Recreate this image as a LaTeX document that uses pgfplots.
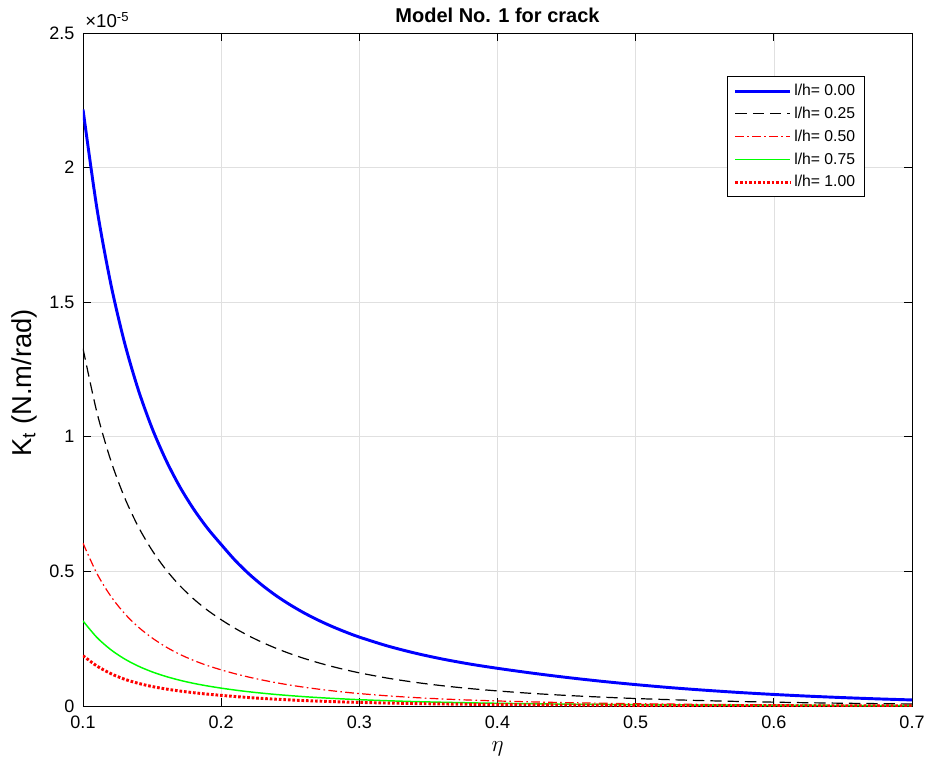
\documentclass[border=0pt]{standalone}
\usepackage{fontspec}
\setmainfont{Liberation Sans}
\usepackage{pgfplots}
\pgfplotsset{compat=1.18}
\begin{document}
\begin{tikzpicture}
\begin{axis}[name=ax,
  scale only axis, width=621.75pt, height=504.75pt,
  xmin=0.1, xmax=0.7, ymin=0, ymax=2.5,
  xtick={0.1,0.2,0.3,0.4,0.5,0.6,0.7},
  xticklabels={0.1,0.2,0.3,0.4,0.5,0.6,0.7},
  ytick={0,0.5,1,1.5,2,2.5},
  yticklabels={0,0.5,1,1.5,2,2.5},
  tick align=inside, tick pos=both,
  major tick length=6.2pt,
  every tick/.append style={black, line width=0.6pt},
  tick label style={font=\fontsize{13.5}{15}\selectfont},
  xticklabel style={yshift=-4pt},
  yticklabel style={xshift=-3pt},
  grid=major, grid style={color=black!12, line width=0.5pt},
  axis line style={line width=0.6pt},
  xlabel={$\eta$},
  xlabel style={font=\fontsize{19}{21}\selectfont, at={(axis description cs:0.5,-0.063)}, anchor=center},
  ylabel={K\textsubscript{t} (N.m/rad)},
  ylabel style={font=\fontsize{20.5}{22}\selectfont, at={(axis description cs:-0.071,0.48)}, anchor=center},
  legend style={at={(axis description cs:0.943,0.936)}, anchor=north east, draw=black, line width=0.5pt, fill=white,
    font=\fontsize{11.8}{13}\selectfont, row sep=3pt, inner xsep=5pt, inner ysep=4pt},
  legend cell align=left,
  legend image code/.code={\draw[#1] (0pt,0pt) -- (41pt,0pt);},
]
\addplot[blue, line width=2.2pt, smooth, tension=0.5] coordinates {
(0.10,2.216) (0.11,1.851) (0.12,1.571) (0.13,1.351) (0.14,1.175) (0.15,1.032)
(0.16,0.914) (0.17,0.815) (0.18,0.732) (0.19,0.661) (0.20,0.600) (0.21,0.5416)
(0.22,0.4911) (0.23,0.4474) (0.24,0.4091) (0.25,0.3756) (0.26,0.3458) (0.27,0.3195)
(0.28,0.2960) (0.29,0.2750) (0.30,0.2560) (0.32,0.2236) (0.34,0.1969) (0.36,0.1746)
(0.38,0.1559) (0.40,0.1400) (0.425,0.1222) (0.45,0.1062) (0.475,0.0920) (0.50,0.0795)
(0.525,0.0683) (0.55,0.0587) (0.575,0.0502) (0.60,0.0429) (0.625,0.0366) (0.65,0.0312)
(0.675,0.0265) (0.70,0.0225)};
\addlegendentry{l/h= 0.00}
\addplot[black, line width=0.9pt, dash pattern=on 8.5pt off 4.5pt, smooth, tension=0.5] coordinates {
(0.10,1.328) (0.11,1.0923) (0.12,0.9138) (0.13,0.7756) (0.14,0.6663) (0.15,0.5784)
(0.16,0.5068) (0.17,0.4475) (0.18,0.3980) (0.19,0.3562) (0.20,0.3206) (0.21,0.2887)
(0.22,0.2606) (0.23,0.2358) (0.24,0.2138) (0.25,0.1942) (0.26,0.1768) (0.27,0.1612)
(0.28,0.1472) (0.29,0.1346) (0.30,0.1232) (0.32,0.1039) (0.34,0.0882) (0.36,0.0754)
(0.38,0.0648) (0.40,0.0560) (0.425,0.0468) (0.45,0.0393) (0.475,0.0331) (0.50,0.0278)
(0.525,0.0235) (0.55,0.0199) (0.575,0.0168) (0.60,0.0143) (0.625,0.0121) (0.65,0.0103)
(0.675,0.0088) (0.70,0.0075)};
\addlegendentry{l/h= 0.25}
\addplot[red, line width=0.9pt, dash pattern=on 6.5pt off 2.5pt on 1.2pt off 2.5pt, smooth, tension=0.5] coordinates {
(0.10,0.605) (0.11,0.4929) (0.12,0.4088) (0.13,0.3441) (0.14,0.2934) (0.15,0.2530)
(0.16,0.2195) (0.17,0.1921) (0.18,0.1694) (0.19,0.1504) (0.20,0.1343) (0.21,0.1200)
(0.22,0.1074) (0.23,0.0963) (0.24,0.0864) (0.25,0.0776) (0.26,0.0698) (0.27,0.0629)
(0.28,0.0567) (0.29,0.0511) (0.30,0.0462) (0.32,0.0379) (0.34,0.0314) (0.36,0.0262)
(0.38,0.0221) (0.40,0.0187) (0.425,0.0153) (0.45,0.0125) (0.475,0.0103) (0.50,0.0086)
(0.55,0.0060) (0.60,0.0042) (0.65,0.0030) (0.70,0.0022)};
\addlegendentry{l/h= 0.50}
\addplot[color={rgb,255:red,0;green,255;blue,0}, line width=1.1pt, smooth, tension=0.5] coordinates {
(0.10,0.316) (0.11,0.2550) (0.12,0.2097) (0.13,0.1751) (0.14,0.1482) (0.15,0.1269)
(0.16,0.1098) (0.17,0.0958) (0.18,0.0842) (0.19,0.0746) (0.20,0.0664) (0.21,0.0592)
(0.22,0.0529) (0.23,0.0475) (0.24,0.0427) (0.25,0.0385) (0.26,0.0347) (0.27,0.0314)
(0.28,0.0285) (0.29,0.0259) (0.30,0.0235) (0.32,0.0196) (0.34,0.0164) (0.36,0.0139)
(0.38,0.0118) (0.40,0.0101) (0.45,0.0069) (0.50,0.0048) (0.55,0.0034) (0.60,0.0025)
(0.65,0.0018) (0.70,0.0013)};
\addlegendentry{l/h= 0.75}
\addplot[red, line width=2.2pt, dash pattern=on 2pt off 1.4pt, smooth, tension=0.5] coordinates {
(0.10,0.187) (0.11,0.1488) (0.12,0.1207) (0.13,0.0996) (0.14,0.0843) (0.15,0.0724)
(0.16,0.0632) (0.17,0.0557) (0.18,0.0494) (0.19,0.0441) (0.20,0.0396) (0.21,0.0352)
(0.22,0.0314) (0.23,0.0280) (0.24,0.0251) (0.25,0.0225) (0.26,0.0202) (0.27,0.0182)
(0.28,0.0164) (0.29,0.0148) (0.30,0.0134) (0.32,0.0110) (0.34,0.0091) (0.36,0.0076)
(0.38,0.0064) (0.40,0.0054) (0.45,0.0036) (0.50,0.0024) (0.55,0.0017) (0.60,0.0012)
(0.65,0.0008) (0.70,0.0006)};
\addlegendentry{l/h= 1.00}
\end{axis}
\node[anchor=base, font=\fontsize{15}{17}\selectfont\bfseries, inner sep=0pt] at ([yshift=8pt]ax.north) {Model No. 1 for crack};
\node[anchor=base west, font=\fontsize{14}{16}\selectfont, inner sep=0pt] at ([xshift=1.5pt,yshift=3.75pt]ax.north west) {×10\textsuperscript{-5}};
\pgfresetboundingbox
\path[use as bounding box] ([xshift=-62.25pt,yshift=-46.5pt]ax.south west) rectangle ([xshift=19.5pt,yshift=24.75pt]ax.north east);
\end{tikzpicture}
\end{document}
